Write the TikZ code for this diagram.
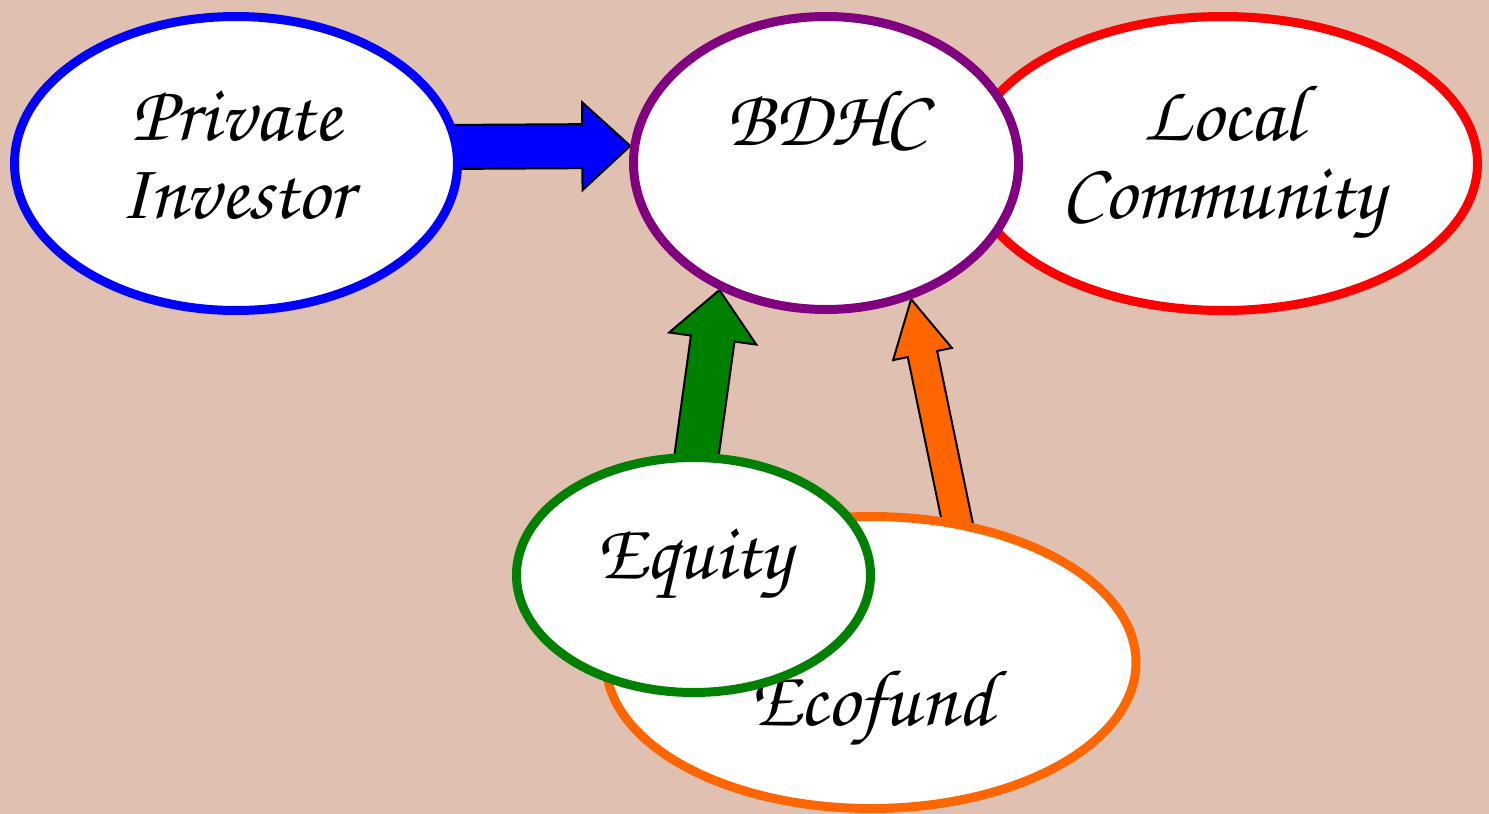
\documentclass[tikz,border=0pt]{standalone}
\usepackage{fontspec}
\newfontfamily\chorus{texgyrechorus-mediumitalic.otf}
\usetikzlibrary{shapes.geometric,calc}
\definecolor{bgc}{RGB}{224,192,176}
\definecolor{ecoorange}{RGB}{255,102,0}
\definecolor{bdpurple}{RGB}{128,0,128}
\definecolor{eqgreen}{RGB}{0,128,0}
\pgfdeclarelayer{bglayer}
\pgfdeclarelayer{arrowlayer}
\pgfsetlayers{bglayer,arrowlayer,main}
% #1 fill colour, #2 from, #3 to (tip), #4 shaft half width, #5 head half width, #6 head length
\newcommand\myblockarrow[6]{%
  \draw[arrowline, fill=#1] let \p1=($(#3)-(#2)$), \n1={atan2(\y1,\x1)}, \n2={veclen(\x1,\y1)} in
    [shift={(#2)}, rotate=\n1]
    (0pt,-#4) -- ({\n2*1pt-#6},-#4) -- ({\n2*1pt-#6},-#5) -- ({\n2*1pt},0pt)
    -- ({\n2*1pt-#6},#5) -- ({\n2*1pt-#6},#4) -- (0pt,#4) -- cycle;}
\tikzset{
  blob/.style={ellipse, draw, fill=white, line width=4.5pt, inner sep=0pt,
    font=\chorus\fontsize{40}{39}\selectfont, align=center, text=black},
  arrowline/.style={draw=black, line width=1pt, line join=miter}
}
\begin{document}
\begin{tikzpicture}[x=0.5pt,y=-0.5pt]
\useasboundingbox (0,0) rectangle (1489,814);
\begin{pgfonlayer}{bglayer}
  \fill[bgc] (0,0) rectangle (1489,814);
\end{pgfonlayer}

\node[blob, draw=blue, minimum width=221.5pt, minimum height=147pt] (pi) at (236,163.5)
  {\strut Private\\\strut Investor};
\node[blob, draw=red, minimum width=254.5pt, minimum height=147pt] (lc) at (1223,163.5)
  {\strut Local\\\strut Community};
\node[blob, draw=bdpurple, minimum width=192.5pt, minimum height=146.5pt,
  text height=15pt, text depth=33pt] (bdhc) at (826,163) {BDHC};
\node[blob, draw=ecoorange, minimum width=265pt, minimum height=146pt,
  text height=70pt, text depth=7.5pt] (eco) at (871,662.5) {Ecofund};
\node[blob, draw=eqgreen, minimum width=177pt, minimum height=117.5pt,
  text height=20pt, text depth=17pt] (eq) at (693.5,575) {Equity};

\coordinate (btail) at ($(pi.center)+(204,-16.5)$);
\coordinate (btip) at (bdhc.175.3);
\coordinate (gtail) at ($(eq.center)+(1,-105)$);
\coordinate (gtip) at (bdhc.230.6);
\coordinate (otail) at ($(eco.center)+(90,-122.5)$);
\coordinate (otip) at (bdhc.302.3);

\begin{pgfonlayer}{arrowlayer}
  \myblockarrow{blue}{btail}{btip}{11pt}{22pt}{24pt}
  \myblockarrow{eqgreen}{gtail}{gtip}{11pt}{22pt}{24.5pt}
  \myblockarrow{ecoorange}{otail}{otip}{7.5pt}{15pt}{28pt}
\end{pgfonlayer}
\end{tikzpicture}
\end{document}
